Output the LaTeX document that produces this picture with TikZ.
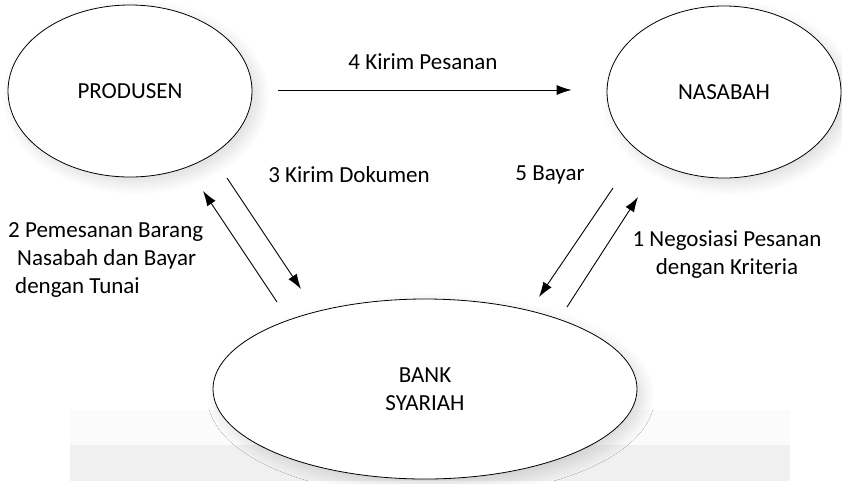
\documentclass[tikz,border=0pt]{standalone}
\usepackage{fontspec}
\setmainfont{Carlito}
\usetikzlibrary{shapes.geometric, arrows.meta, shadows.blur, calc}

\begin{document}
\begin{tikzpicture}
  [x=1pt, y=-1pt,
   every node/.style = {font=\fontsize{23}{28}\selectfont, inner sep=0pt},
   entity/.style = {
     ellipse, draw=black, line width=0.8pt, fill=white,
     blur shadow={shadow xshift=6pt, shadow yshift=-6pt,
       shadow blur radius=12pt, shadow blur steps=12, shadow opacity=14}},
   lbl/.style = {align=center},
   flow/.style = {line width=0.9pt, -{Latex[length=15pt, width=10pt]}}
  ]
  \useasboundingbox (0,0) rectangle (842,483);
  \fill[black!1.5] (70,410) rectangle (790,445);
  \fill[black!6] (70,445) rectangle (790,481);

  \node[entity, minimum width=244pt, minimum height=172pt] (prod) at (130,91) {PRODUSEN};
  \node[entity, minimum width=234pt, minimum height=172pt] (nas) at (724,92) {NASABAH};
  \node[entity, minimum width=424pt, minimum height=180pt, align=center] (bank) at (425,389)
    {BANK\\SYARIAH};

  \coordinate (c2a) at (277,302); \coordinate (c2b) at (203,191);
  \coordinate (c3a) at (227,178); \coordinate (c3b) at (301,289);
  \coordinate (c5a) at (613,188); \coordinate (c5b) at (539,297);
  \coordinate (c1a) at (567,307); \coordinate (c1b) at (638,197);

  \draw[flow, shorten <=26pt, shorten >=35pt] ($(prod.east)+(0,-1)$) -- ($(nas.west)+(0,-2)$);
  \draw[flow] (c2a) -- (c2b);
  \draw[flow] (c3a) -- (c3b);
  \draw[flow] (c5a) -- (c5b);
  \draw[flow] (c1a) -- (c1b);

  \node[lbl] (t4) at (423,62) {4 Kirim Pesanan};
  \node[lbl] (t3) at (349,175) {3 Kirim Dokumen};
  \node[lbl] (t5) at (550,175) {5 Bayar};
  \node[lbl] (t1) at (727,255) {1 Negosiasi Pesanan\\dengan Kriteria};
  \node[align=left, anchor=west] (t2) at (8,260)
    {2 Pemesanan Barang\\\hspace*{9pt}Nasabah dan Bayar\\\hspace*{7pt}dengan Tunai};
\end{tikzpicture}
\end{document}
